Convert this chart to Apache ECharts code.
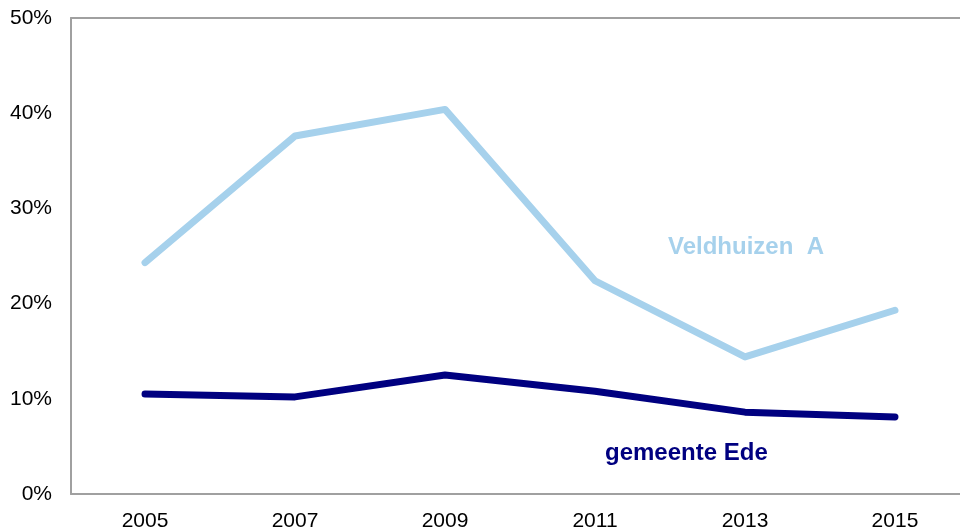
<!DOCTYPE html>
<html>
<head>
<meta charset="utf-8">
<script src="https://cdn.jsdelivr.net/npm/echarts@6/dist/echarts.min.js"></script>
<style>
  html, body { margin: 0; padding: 0; background: #fff; }
  #chart { width: 960px; height: 532px; }
</style>
</head>
<body>
<div id="chart"></div>
<script>
// years shown on the x axis
var years = [2005, 2007, 2009, 2011, 2013, 2015];
// share in %
var veldhuizen = [24.3, 37.6, 40.4, 22.4, 14.4, 19.3];
var ede = [10.5, 10.2, 12.5, 10.8, 8.6, 8.1];
var yTicks = [0, 10, 20, 30, 40, 50];

function pairs(vals) {
    return years.map(function (y, i) { return [y, vals[i]]; });
}

var myChart = echarts.init(document.getElementById('chart'));
var font = 'Liberation Sans, Arial, sans-serif';

var option = {
    animation: false,
    grid: { left: 71, right: 0, top: 18, bottom: 37 },
    xAxis: [{
        type: 'value',
        min: 2004.013,
        max: 2015.867,
        splitLine: { show: false },
        axisLine: { show: true, lineStyle: { color: '#a0a0a0', width: 2 } },
        axisTick: { show: false },
        axisLabel: {
            customValues: years,
            color: '#000',
            fontSize: 21,
            fontFamily: font,
            margin: 17,
            formatter: function (v) { return String(v); }
        }
    }, {
        type: 'value',
        position: 'top',
        min: 2004.013,
        max: 2015.867,
        splitLine: { show: false },
        axisLine: { show: true, lineStyle: { color: '#a0a0a0', width: 2 } },
        axisTick: { show: false },
        axisLabel: { show: false }
    }],
    yAxis: {
        type: 'value',
        min: 0,
        max: 50,
        interval: 10,
        splitLine: { show: false },
        axisLine: { show: true, lineStyle: { color: '#a0a0a0', width: 2 } },
        axisTick: { show: false },
        axisLabel: {
            color: '#000',
            fontSize: 21,
            fontFamily: font,
            margin: 19,
            formatter: '{value}%'
        }
    },
    series: [{
        name: 'Veldhuizen A',
        type: 'line',
        data: pairs(veldhuizen),
        symbol: 'none',
        lineStyle: { color: '#a6d1ec', width: 7, cap: 'round', join: 'round' }
    }, {
        name: 'gemeente Ede',
        type: 'line',
        data: pairs(ede),
        symbol: 'none',
        lineStyle: { color: '#000080', width: 7, cap: 'round', join: 'round' }
    }],
    graphic: [{
        type: 'text',
        left: 668,
        top: 235,
        style: {
            text: 'Veldhuizen  A',
            fill: '#a6d1ec',
            font: 'bold 24px ' + font
        }
    }, {
        type: 'text',
        left: 605,
        top: 441,
        style: {
            text: 'gemeente Ede',
            fill: '#000080',
            font: 'bold 24px ' + font
        }
    }]
};

myChart.setOption(option);
</script>
</body>
</html>
